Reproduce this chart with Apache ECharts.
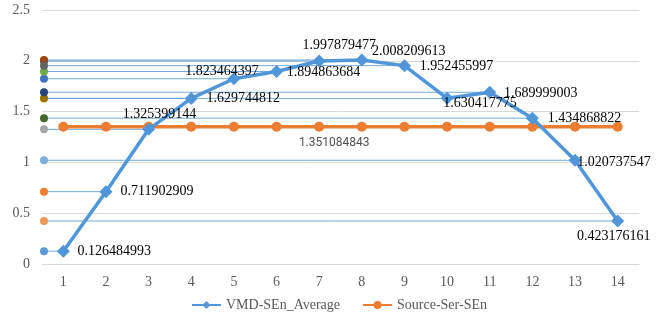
<!DOCTYPE html>
<html>
<head>
<meta charset="utf-8">
<script src="https://cdn.jsdelivr.net/npm/echarts@6/dist/echarts.min.js"></script>
<style>
html,body{margin:0;padding:0;background:#fff;}
#chart{width:667px;height:320px;}
</style>
</head>
<body>
<div id="chart"></div>
<script>
var categories = ['1','2','3','4','5','6','7','8','9','10','11','12','13','14'];
var vmdValues = [0.126484993, 0.711902909, 1.325399144, 1.629744812, 1.823464397, 1.894863684, 1.997879477, 2.008209613, 1.952455997, 1.630417775, 1.689999003, 1.434868822, 1.020737547, 0.423176161];
var sourceValues = [1.351084843, 1.351084843, 1.351084843, 1.351084843, 1.351084843, 1.351084843, 1.351084843, 1.351084843, 1.351084843, 1.351084843, 1.351084843, 1.351084843, 1.351084843, 1.351084843];
var yTicks = [0, 0.5, 1, 1.5, 2, 2.5];
var seriesNames = ['VMD-SEn_Average', 'Source-Ser-SEn'];

// styling (not data)
var FONT = '"Liberation Serif", "Times New Roman", serif';
var dotColors = ['#5B9BD5','#ED7D31','#A5A5A5','#FFC000','#4472C4','#70AD47','#255E91','#9E480E','#636363','#997300','#264478','#43682B','#7CAFDD','#F1975A'];
var labelOffsets = [[51,0],[51,0],[11,-15],[52,0],[-12,-7],[47,1],[20,-16],[47,-9],[52,1],[33,5],[51,1],[52,0],[39,2],[-4,15]];
var sourceLabelIndex = 6;
var sourceLabelOffset = [15,16];

var chart = echarts.init(document.getElementById('chart'));

var vmdData = vmdValues.map(function (v) {
  return { value: v, label: { show: true, formatter: String(v) } };
});
var sourceData = sourceValues.map(function (v, i) {
  if (i === sourceLabelIndex) {
    return { value: v, label: { show: true, formatter: String(v) } };
  }
  return v;
});
var dropData = vmdValues.map(function (v, i) { return [i, v]; });

var commonLabel = {
  position: 'inside',
  align: 'center',
  verticalAlign: 'middle'
};

chart.setOption({
  animation: false,
  backgroundColor: '#fff',
  grid: { left: 42, right: 28, top: 10, bottom: 56, containLabel: false },
  legend: {
    data: seriesNames,
    bottom: 3,
    left: 186,
    itemWidth: 29,
    itemHeight: 10,
    itemGap: 22,
    textStyle: { fontFamily: FONT, fontSize: 14, color: '#595959' }
  },
  xAxis: {
    type: 'category',
    data: categories,
    boundaryGap: true,
    axisLine: { show: true, lineStyle: { color: '#D9D9D9', width: 1 } },
    axisTick: { show: false },
    axisLabel: { fontFamily: FONT, fontSize: 14, color: '#595959', margin: 11 }
  },
  yAxis: {
    type: 'value',
    min: yTicks[0],
    max: yTicks[yTicks.length - 1],
    interval: 0.5,
    axisLine: { show: false },
    axisTick: { show: false },
    axisLabel: { fontFamily: FONT, fontSize: 14, color: '#595959', margin: 12 },
    splitLine: { lineStyle: { color: '#D9D9D9', width: 1 } }
  },
  series: [
    {
      type: 'custom',
      name: 'drop',
      z: 1,
      silent: true,
      data: dropData,
      encode: { x: 0, y: 1 },
      renderItem: function (params, api) {
        var pt = api.coord([api.value(0), api.value(1)]);
        var x0 = params.coordSys.x + 2;
        return {
          type: 'group',
          children: [
            {
              type: 'line',
              shape: { x1: x0, y1: pt[1], x2: pt[0], y2: pt[1] },
              style: { stroke: '#5B9BD5', lineWidth: 1, opacity: 0.85 }
            },
            {
              type: 'circle',
              shape: { cx: x0, cy: pt[1], r: 4 },
              style: { fill: dotColors[params.dataIndex % dotColors.length] }
            }
          ]
        };
      }
    },
    {
      type: 'line',
      name: seriesNames[1],
      z: 3,
      data: sourceData,
      symbol: 'circle',
      symbolSize: 10,
      lineStyle: { color: '#ED7D31', width: 3.5 },
      itemStyle: { color: '#ED7D31' },
      label: Object.assign({ show: false, fontFamily: 'Roboto, "Noto Sans", sans-serif', fontSize: 12, color: '#505050' }, commonLabel),
      labelLayout: function () {
        return { dx: sourceLabelOffset[0], dy: sourceLabelOffset[1], hideOverlap: false };
      }
    },
    {
      type: 'line',
      name: seriesNames[0],
      z: 4,
      data: vmdData,
      symbol: 'diamond',
      symbolSize: 13,
      lineStyle: { color: '#5096D8', width: 3.5 },
      itemStyle: { color: '#5096D8' },
      label: Object.assign({ show: true, fontFamily: FONT, fontSize: 14, color: '#000' }, commonLabel),
      labelLayout: function (p) {
        var o = labelOffsets[p.dataIndex];
        return { dx: o[0], dy: o[1], hideOverlap: false };
      }
    }
  ]
});
</script>
</body>
</html>
